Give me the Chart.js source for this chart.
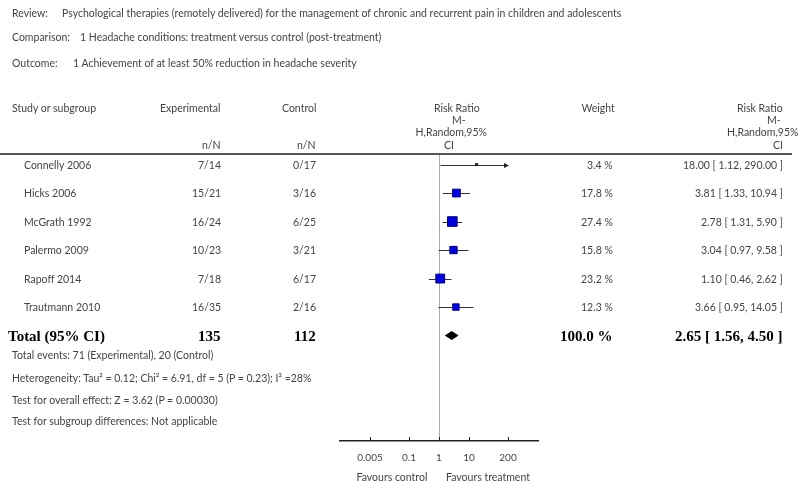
<!DOCTYPE html>
<html>
<head>
<meta charset="utf-8">
<script src="https://cdn.jsdelivr.net/npm/chart.js@4/dist/chart.umd.min.js"></script>
<style>
  body { margin: 0; background: #fff; }
  #wrap { position: relative; width: 800px; height: 481px; overflow: hidden; }
  #plot { position: absolute; left: 0; top: 0; }
  .t { position: absolute; font-family: Lato, "Noto Sans", sans-serif; font-size: 10.5px; color: #444;
       line-height: 14px; white-space: nowrap; }
  .b { font-family: "Liberation Serif", serif; font-weight: bold; font-size: 15px; color: #000; line-height: 18px; }
  .rule { position: absolute; left: 0; top: 153px; width: 792px; height: 2px; background: #555; }
</style>
</head>
<body>
<div id="wrap">
  <canvas id="plot" width="800" height="481"></canvas>
  <div class="rule"></div>
</div>
<script>
// study rows
const studies = ['Connelly 2006', 'Hicks 2006', 'McGrath 1992', 'Palermo 2009', 'Rapoff 2014', 'Trautmann 2010']
const experimental = ['7/14', '15/21', '16/24', '10/23', '7/18', '16/35']
const control = ['0/17', '3/16', '6/25', '3/21', '6/17', '2/16']
const weights = [3.4, 17.8, 27.4, 15.8, 23.2, 12.3]
const riskRatio = [18.00, 3.81, 2.78, 3.04, 1.10, 3.66]
const ciLow = [1.12, 1.33, 1.31, 0.97, 0.46, 0.95]
const ciHigh = [290.00, 10.94, 5.90, 9.58, 2.62, 14.05]

// pooled result
const totalExp = 135
const totalCtrl = 112
const totalWeight = 100.0
const totalRR = 2.65
const totalLow = 1.56
const totalHigh = 4.50

const tickValues = [0.005, 0.1, 1, 10, 200]

const fmt = v => v.toFixed(2)

// whiskers, diamond and inward ticks
const forestPlugin = {
  id: 'forest',
  beforeDatasetsDraw(chart) {
    const ctx = chart.ctx
    const xs = chart.scales.x, ys = chart.scales.y
    const clipMax = tickValues[tickValues.length - 1]
    const clipMin = tickValues[0]
    ctx.save()
    ctx.strokeStyle = '#333'
    ctx.fillStyle = '#222'
    ctx.lineWidth = 1
    for (let i = 0; i < studies.length; i++) {
      const y = Math.round(ys.getPixelForValue(i)) + 0.5
      const x1 = xs.getPixelForValue(Math.max(ciLow[i], clipMin))
      const x2 = xs.getPixelForValue(Math.min(ciHigh[i], clipMax))
      ctx.beginPath()
      ctx.moveTo(x1, y)
      ctx.lineTo(x2, y)
      ctx.stroke()
      if (ciHigh[i] > clipMax) {
        ctx.beginPath()
        ctx.moveTo(x2 + 1, y)
        ctx.lineTo(x2 - 4, y - 2.5)
        ctx.lineTo(x2 - 4, y + 2.5)
        ctx.closePath()
        ctx.fill()
      }
    }
    // pooled diamond
    const yd = ys.getPixelForValue(studies.length)
    ctx.fillStyle = '#000'
    ctx.beginPath()
    ctx.moveTo(xs.getPixelForValue(totalLow), yd)
    ctx.lineTo(xs.getPixelForValue(totalRR), yd - 4.5)
    ctx.lineTo(xs.getPixelForValue(totalHigh), yd)
    ctx.lineTo(xs.getPixelForValue(totalRR), yd + 4.5)
    ctx.closePath()
    ctx.fill()
    // small ticks pointing up from the axis
    const yb = chart.chartArea.bottom
    ctx.strokeStyle = '#222'
    tickValues.forEach(v => {
      const x = Math.round(xs.getPixelForValue(v)) + 0.5
      ctx.beginPath()
      ctx.moveTo(x, yb)
      ctx.lineTo(x, yb - 4)
      ctx.stroke()
    })
    ctx.restore()
  }
}

const chart = new Chart(document.getElementById('plot'), {
  type: 'scatter',
  data: {
    datasets: [{
      data: riskRatio.map((v, i) => ({ x: v, y: i })),
      pointStyle: 'rect',
      pointRadius: weights.map(w => w < 5 ? 1.5 : Math.sqrt(w) * 1.3),
      backgroundColor: weights.map(w => w < 5 ? '#222' : '#0000dd'),
      borderColor: weights.map(w => w < 5 ? '#222' : '#000077'),
      borderWidth: 1
    }]
  },
  options: {
    responsive: false,
    animation: false,
    events: [],
    layout: { padding: { left: 340, right: 262, top: 154, bottom: 0 } },
    plugins: { legend: { display: false }, tooltip: { enabled: false } },
    scales: {
      x: {
        type: 'logarithmic',
        min: 0.0005,
        max: 2000,
        afterBuildTicks: scale => { scale.ticks = tickValues.map(v => ({ value: v })) },
        afterFit: scale => { scale.height = 40 },
        ticks: {
          padding: 11,
          color: '#444',
          font: { family: 'Lato', size: 10 },
          maxRotation: 0,
          autoSkip: false,
          callback: v => String(v)
        },
        grid: {
          drawTicks: false,
          color: c => (c.tick && c.tick.value === 1) ? '#aaa' : 'rgba(0,0,0,0)'
        },
        border: { display: true, color: '#222', width: 1.5 }
      },
      y: {
        type: 'linear',
        reverse: true,
        min: -0.37,
        max: 9.7,
        display: false
      }
    }
  },
  plugins: [forestPlugin]
})

// text table
const wrap = document.getElementById('wrap')
function put(text, x, y, align, cls) {
  const d = document.createElement('div')
  d.className = 't' + (cls ? ' ' + cls : '')
  d.textContent = text
  wrap.appendChild(d)
  const h = d.offsetHeight
  d.style.top = (y - h / 2) + 'px'
  const w = d.offsetWidth
  if (align === 'right') d.style.left = (x - w) + 'px'
  else if (align === 'center') d.style.left = (x - w / 2) + 'px'
  else d.style.left = x + 'px'
}

put('Review:', 12, 13)
put('Psychological therapies (remotely delivered) for the management of chronic and recurrent pain in children and adolescents', 62, 13)
put('Comparison:', 12, 37)
put('1 Headache conditions: treatment versus control (post-treatment)', 80, 37)
put('Outcome:', 12, 63)
put('1 Achievement of at least 50% reduction in headache severity', 73, 63)

put('Study or subgroup', 12, 108)
put('Experimental', 221, 108, 'right')
put('Control', 316, 108, 'right')
put('Risk Ratio', 457, 108, 'center')
put('M-', 459, 120, 'center')
put('H,Random,95%', 451, 132, 'center')
put('CI', 449, 145, 'center')
put('Weight', 598, 108, 'center')
put('Risk Ratio', 783, 108, 'right')
put('M-', 781, 120, 'right')
put('H,Random,95%', 798, 132, 'right')
put('CI', 783, 145, 'right')
put('n/N', 221, 145, 'right')
put('n/N', 316, 145, 'right')

const ys = chart.scales.y
studies.forEach((s, i) => {
  const y = ys.getPixelForValue(i)
  put(s, 24, y)
  put(experimental[i], 221, y, 'right')
  put(control[i], 316, y, 'right')
  put(weights[i].toFixed(1) + ' %', 613, y, 'right')
  put(fmt(riskRatio[i]) + ' [ ' + fmt(ciLow[i]) + ', ' + fmt(ciHigh[i]) + ' ]', 783, y, 'right')
})
const yt = ys.getPixelForValue(studies.length)
put('Total (95% CI)', 8, yt, null, 'b')
put(String(totalExp), 221, yt, 'right', 'b')
put(String(totalCtrl), 316, yt, 'right', 'b')
put(totalWeight.toFixed(1) + ' %', 613, yt, 'right', 'b')
put(fmt(totalRR) + ' [ ' + fmt(totalLow) + ', ' + fmt(totalHigh) + ' ]', 783, yt, 'right', 'b')

put('Total events: 71 (Experimental), 20 (Control)', 12, 355)
put('Heterogeneity: Tau² = 0.12; Chi² = 6.91, df = 5 (P = 0.23); I² =28%', 12, 378)
put('Test for overall effect: Z = 3.62 (P = 0.00030)', 12, 400)
put('Test for subgroup differences: Not applicable', 12, 421)

put('Favours control', 392, 477, 'center')
put('Favours treatment', 488, 477, 'center')
</script>
</body>
</html>
